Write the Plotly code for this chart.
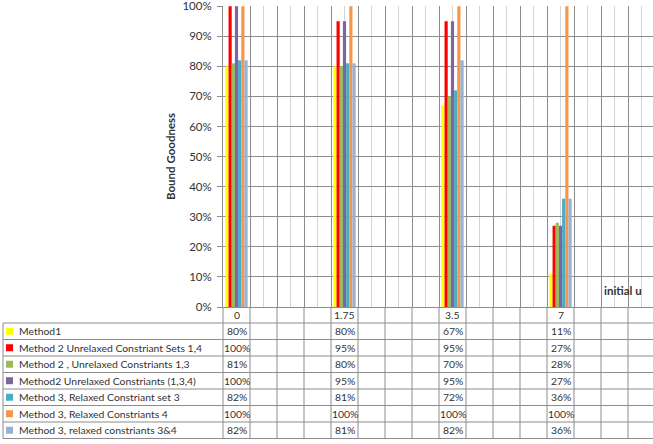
import plotly.graph_objects as go

# ---- data -------------------------------------------------------------
categories = ["0", "1.75", "3.5", "7"]

method1 = [0.80, 0.80, 0.67, 0.11]
method2_sets_1_4 = [1.00, 0.95, 0.95, 0.27]
method2_constr_1_3 = [0.81, 0.80, 0.70, 0.28]
method2_constr_1_3_4 = [1.00, 0.95, 0.95, 0.27]
method3_set_3 = [0.82, 0.81, 0.72, 0.36]
method3_constr_4 = [1.00, 1.00, 1.00, 1.00]
method3_constr_3_4 = [0.82, 0.81, 0.82, 0.36]

series_names = [
    "Method1",
    "Method 2 Unrelaxed Constriant Sets 1,4",
    "Method 2 , Unrelaxed Constriants 1,3",
    "Method2 Unrelaxed Constriants (1,3,4)",
    "Method 3, Relaxed Constriant set 3",
    "Method 3, Relaxed Constriants 4",
    "Method 3, relaxed constriants 3&4",
]
series_values = [
    method1,
    method2_sets_1_4,
    method2_constr_1_3,
    method2_constr_1_3_4,
    method3_set_3,
    method3_constr_4,
    method3_constr_3_4,
]
series_colors = ["#FFFF00", "#FF0000", "#9BBB59", "#8064A2",
                 "#4BACC6", "#F79646", "#95B3D7"]

# ---- layout geometry (pixels) ----------------------------------------
W, H = 653, 444
PLOT_L, PLOT_T, PLOT_B = 223, 6, 307
COL_W = 27                 # width of one axis column
COLS_PER_CATEGORY = 4      # blank columns between categories
HEAD_H = 16                # header row of the data table
ROW_H = 16.5               # body rows of the data table
TABLE_LEFT = 3
DARK = "#8c8c8c"
LIGHT = "#d4d4d4"
TEXT = "#333333"
FONT = "Lato"
TABLE_SIZE = 10.4

positions = [i * COLS_PER_CATEGORY for i in range(len(categories))]
n_series = len(series_names)
GROUP_W = 0.826
BAR_W = GROUP_W / n_series


def px_x(px):
    return (px - PLOT_L) / (W - PLOT_L)


def px_y(py):
    return (PLOT_B - py) / (PLOT_B - PLOT_T)


fig = go.Figure()
for k, (name, vals, color) in enumerate(zip(series_names, series_values, series_colors)):
    fig.add_trace(go.Bar(
        x=positions, y=vals, name=name,
        width=BAR_W, offset=-GROUP_W / 2 + k * BAR_W,
        marker=dict(color=color, line=dict(width=0)),
    ))

shapes = []
annotations = []

table_top = PLOT_B + HEAD_H
table_bottom = table_top + n_series * ROW_H

# horizontal table rules
for r in range(n_series + 1):
    y = table_top + r * ROW_H
    shapes.append(dict(type="line", xref="paper", yref="paper",
                       x0=px_x(TABLE_LEFT), x1=1, y0=px_y(y), y1=px_y(y),
                       line=dict(color=DARK, width=1)))
# left border of the label column
shapes.append(dict(type="line", xref="paper", yref="paper",
                   x0=px_x(TABLE_LEFT), x1=px_x(TABLE_LEFT),
                   y0=px_y(table_top), y1=px_y(table_bottom),
                   line=dict(color=DARK, width=1)))
# column rules continue below the axis
j = 0
while PLOT_L + j * COL_W <= W:
    x = PLOT_L + j * COL_W
    shapes.append(dict(type="line", xref="paper", yref="paper",
                       x0=px_x(x), x1=px_x(x), y0=px_y(PLOT_B), y1=px_y(table_bottom),
                       line=dict(color=DARK, width=1)))
    j += 1

cell_font = dict(family=FONT, size=TABLE_SIZE, color=TEXT)

# header row: category labels
for cat, pos in zip(categories, positions):
    annotations.append(dict(xref="paper", yref="paper",
                            x=px_x(PLOT_L + (pos + 0.5) * COL_W),
                            y=px_y(PLOT_B + HEAD_H / 2),
                            text=cat, showarrow=False, font=cell_font,
                            xanchor="center", yanchor="middle"))

# body rows: legend key, series name and values
for r, (name, vals, color) in enumerate(zip(series_names, series_values, series_colors)):
    yc = table_top + (r + 0.5) * ROW_H
    shapes.append(dict(type="rect", xref="paper", yref="paper",
                       x0=px_x(6), x1=px_x(13), y0=px_y(yc - 3.5), y1=px_y(yc + 3.5),
                       fillcolor=color, line=dict(width=0)))
    annotations.append(dict(xref="paper", yref="paper", x=px_x(18), y=px_y(yc),
                            text=name, showarrow=False, font=cell_font,
                            xanchor="left", yanchor="middle", borderpad=0))
    for v, pos in zip(vals, positions):
        annotations.append(dict(xref="paper", yref="paper",
                                x=px_x(PLOT_L + (pos + 0.5) * COL_W), y=px_y(yc),
                                text=f"{v:.0%}", showarrow=False, font=cell_font,
                                xanchor="center", yanchor="middle", borderpad=0))

# axis titles
annotations.append(dict(xref="paper", yref="paper", x=px_x(170), y=px_y(157),
                        text="<b>Bound Goodness</b>", textangle=-90, showarrow=False,
                        font=dict(family=FONT, size=11.5, color=TEXT),
                        xanchor="center", yanchor="middle"))
annotations.append(dict(xref="paper", yref="paper", x=px_x(623), y=px_y(290),
                        text="<b>initial u</b>", showarrow=False,
                        font=dict(family=FONT, size=11.5, color=TEXT),
                        xanchor="center", yanchor="middle"))

fig.update_layout(
    width=W, height=H,
    margin=dict(l=PLOT_L, r=0, t=PLOT_T, b=H - PLOT_B, pad=0),
    paper_bgcolor="white", plot_bgcolor="white",
    showlegend=False, barmode="group",
    font=dict(family=FONT, size=12, color=TEXT),
    shapes=shapes, annotations=annotations,
    xaxis=dict(
        range=[-0.5, -0.5 + (W - PLOT_L) / COL_W],
        tickmode="linear", tick0=-0.5, dtick=1,
        showticklabels=False, ticks="",
        showgrid=True, gridcolor=DARK, gridwidth=1,
        minor=dict(tickmode="linear", tick0=0, dtick=0.5,
                   showgrid=True, gridcolor=LIGHT, gridwidth=1, ticks=""),
        showline=True, linecolor=DARK, linewidth=1, zeroline=False,
    ),
    yaxis=dict(
        range=[0, 1.0005], tickmode="linear", tick0=0, dtick=0.1, tickformat=".0%",
        ticks="outside", ticklen=5, tickcolor=DARK, ticklabelstandoff=3,
        ticklabeloverflow="allow",
        showgrid=True, gridcolor=DARK, gridwidth=1,
        showline=True, linecolor=DARK, linewidth=1, zeroline=False,
        tickfont=dict(family=FONT, size=11.5, color=TEXT),
    ),
)

fig.write_html("out.html")
